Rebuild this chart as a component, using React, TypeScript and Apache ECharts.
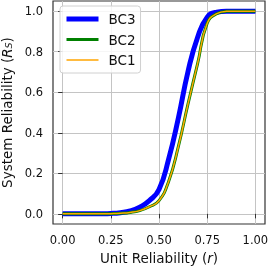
import React, { useEffect, useRef } from "react";
import * as echarts from "echarts";

const rValues = [0, 0.05, 0.1, 0.15, 0.2, 0.25, 0.3, 0.35, 0.4, 0.45, 0.5, 0.55, 0.6, 0.65, 0.7, 0.75, 0.8, 0.85, 0.9, 0.95, 1.0];
const bc3 = [0, 0, 0, 0, 0.0005, 0.002, 0.006, 0.014, 0.033, 0.065, 0.12, 0.27, 0.47, 0.7, 0.87, 0.97, 0.995, 1, 1, 1, 1];
const bc2 = [0, 0, 0, 0, 0, 0.001, 0.003, 0.007, 0.016, 0.035, 0.065, 0.16, 0.33, 0.54, 0.74, 0.94, 0.988, 0.999, 1, 1, 1];
const bc1 = [0, 0, 0, 0, 0, 0.001, 0.003, 0.007, 0.016, 0.035, 0.065, 0.16, 0.33, 0.54, 0.74, 0.94, 0.988, 0.999, 1, 1, 1];
const seriesNames = ["BC3", "BC2", "BC1"];
const xTicks = [0, 0.25, 0.5, 0.75, 1.0];
const yTicks = [0, 0.2, 0.4, 0.6, 0.8, 1.0];

const FONT = "DejaVu Sans";
const TXT = "#111";

export default function App() {
  const ref = useRef<HTMLDivElement>(null);
  useEffect(() => {
    if (!ref.current) return;
    const chart = echarts.init(ref.current, undefined, { renderer: "svg" });
    const toPairs = (ys: number[]) => rValues.map((r, i) => [r, ys[i]]);
    const styles = [
      { color: "#0000ff", width: 5 },
      { color: "#008000", width: 3 },
      { color: "#ffa500", width: 1.5 },
    ];
    const datas = [bc3, bc2, bc1];
    chart.setOption({
      animation: false,
      grid: {
        left: 53,
        right: 5,
        top: 1,
        bottom: 43,
        outerBoundsMode: "none",
        containLabel: false,
        show: true,
        borderColor: "#333",
        borderWidth: 1.2,
        backgroundColor: "transparent",
      },
      legend: {
        orient: "vertical",
        left: 60,
        top: 6,
        itemWidth: 32,
        itemHeight: 14,
        itemGap: 6.5,
        padding: [6, 5, 6, 4],
        backgroundColor: "rgba(255,255,255,0.85)",
        borderColor: "#d0d0d0",
        borderWidth: 1,
        borderRadius: 3,
        lineStyle: { width: "inherit" },
        itemStyle: { opacity: 0 },
        textStyle: { fontSize: 13.5, color: TXT, fontFamily: FONT, padding: [0, 0, 0, 5] },
        data: seriesNames,
      },
      xAxis: {
        type: "value",
        min: -0.05,
        max: 1.05,
        axisLine: { show: false },
        axisTick: { show: true, customValues: xTicks, length: 4.5, lineStyle: { color: "#333" } },
        axisLabel: {
          customValues: xTicks,
          formatter: (v: number) => v.toFixed(2),
          fontSize: 11.5,
          color: TXT,
          fontFamily: FONT,
          margin: 10,
        },
        splitLine: { show: true, lineStyle: { color: "#c4c4c4", width: 1 } },
        name: "{n|Unit Reliability (}{i|r}{n|)}",
        nameLocation: "middle",
        nameGap: 23,
        nameTextStyle: {
          fontSize: 13.5,
          color: TXT,
          fontFamily: FONT,
          rich: {
            n: { fontSize: 13.5, color: TXT, fontFamily: FONT },
            i: { fontSize: 13.5, color: TXT, fontFamily: FONT, fontStyle: "italic" },
          },
        },
      },
      yAxis: {
        type: "value",
        min: -0.05,
        max: 1.05,
        axisLine: { show: false },
        axisTick: { show: true, customValues: yTicks, length: 4.5, lineStyle: { color: "#333" } },
        axisLabel: {
          customValues: yTicks,
          formatter: (v: number) => v.toFixed(1),
          fontSize: 11.5,
          color: TXT,
          fontFamily: FONT,
          margin: 10,
        },
        splitLine: { show: true, lineStyle: { color: "#c4c4c4", width: 1 } },
        name: "{n|System Reliability (}{i|R}{s|S}{n|)}",
        nameLocation: "middle",
        nameGap: 38,
        nameTextStyle: {
          fontSize: 13.5,
          color: TXT,
          fontFamily: FONT,
          rich: {
            n: { fontSize: 13.5, color: TXT, fontFamily: FONT },
            i: { fontSize: 13.5, color: TXT, fontFamily: FONT, fontStyle: "italic" },
            s: { fontSize: 9.5, color: TXT, fontFamily: FONT, fontStyle: "italic", verticalAlign: "bottom", padding: [4, 0, 0, 0] },
          },
        },
      },
      series: seriesNames.map((name, k) => ({
        name,
        type: "line",
        data: toPairs(datas[k]),
        smooth: true,
        symbol: "none",
        showSymbol: false,
        lineStyle: { color: styles[k].color, width: styles[k].width },
        itemStyle: { color: styles[k].color },
      })),
    });
    return () => chart.dispose();
  }, []);
  return <div ref={ref} style={{ position: "fixed", left: 0, top: 0, width: 270, height: 267 }} />;
}
